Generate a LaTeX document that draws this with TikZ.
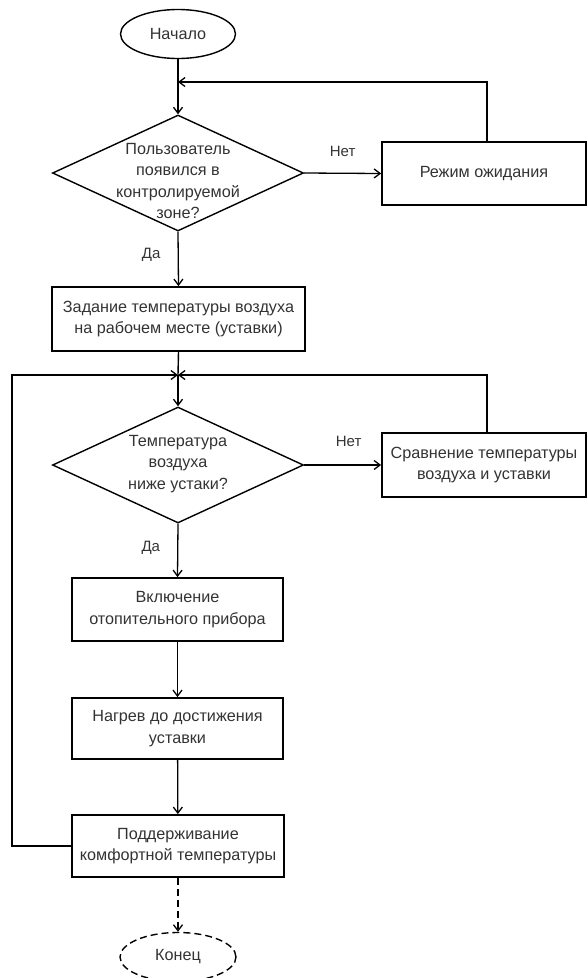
\documentclass[tikz,border=0pt]{standalone}
\usepackage{fontspec}
\setmainfont{Liberation Sans}
\usetikzlibrary{shapes.geometric,arrows.meta}
\begin{document}
\begin{tikzpicture}[x=1pt,y=-1pt,
  line width=1.4pt,
  txt/.style={font=\fontsize{16.2}{21.5}\selectfont, align=center, text=black!80},
  box/.style={draw, line width=1.7pt, rectangle, inner sep=0pt, txt},
  term/.style={draw, ellipse, line width=1.4pt, inner sep=0pt, txt},
  dia/.style={draw, diamond, inner sep=0pt, line width=1.4pt},
  arr/.style={-{Straight Barb[length=6pt,width=9pt]}, line width=1.3pt},
  lbl/.style={font=\fontsize{15}{17}\selectfont, text=black!80},
  dsh/.style={dash pattern=on 7pt off 4pt}
]
\useasboundingbox (0,0) rectangle (588,978);
\node[term, minimum width=115pt, minimum height=49pt] (start) at (178,34) {Начало};
\coordinate (j1) at (178,82);
\node[dia, minimum width=251pt, minimum height=116pt] (d1) at (178,173) {};
\node[txt] (d1t) at (178,181) {Пользователь\\появился в\\контролируемой\\зоне?};
\node[box, minimum width=204pt, minimum height=63pt] (wait) at (484,173.5) {Режим ожидания};
\node[box, minimum width=253pt, minimum height=64pt] (set) at (178.5,319) {Задание температуры воздуха\\на рабочем месте (уставки)};
\coordinate (j2) at (178,375);
\coordinate (lft) at (12,375);
\node[dia, minimum width=251pt, minimum height=116pt] (d2) at (178,465) {};
\node[txt] (d2t) at (178,464) {Температура\\воздуха\\ниже устаки?};
\node[box, minimum width=204pt, minimum height=64pt] (cmp) at (484,465) {Сравнение температуры\\воздуха и уставки};
\node[box, minimum width=211pt, minimum height=63pt] (on) at (177.5,609.5) {Включение\\отопительного прибора};
\node[box, minimum width=211pt, minimum height=61pt] (heat) at (177.5,728.5) {Нагрев до достижения\\уставки};
\node[box, minimum width=212pt, minimum height=62pt] (keep) at (178,846) {Поддерживание\\комфортной температуры};
\node[term, dsh, minimum width=116pt, minimum height=49pt] (end) at (178,957) {Конец};

\draw[arr] (start) -- (d1.north);
\draw[arr] (d1.east) -- (wait.west) node[lbl, midway, yshift=22pt] (n1) {Нет};
\draw[arr] ([xshift=3pt]wait.north) |- (j1);
\draw[arr] (d1.south) -- (set.north) node[lbl, pos=0.43, xshift=-27pt] (y1) {Да};
\draw (set.south) -- (j2);
\draw[arr] (j2) -- (d2.north);
\draw[arr] (d2.east) -- (cmp.west) node[lbl, midway, yshift=24pt, xshift=6pt] (n2) {Нет};
\draw[arr] ([xshift=3pt]cmp.north) |- (j2);
\draw[arr] (d2.south) -- (on.north) node[lbl, pos=0.45, xshift=-27pt] (y2) {Да};
\draw[arr] (on) -- (heat);
\draw[arr] (heat) -- (keep);
\draw[arr] (keep.west) -| (lft) -- (j2);
\draw[arr, dsh] (keep) -- (end);
\end{tikzpicture}
\end{document}
